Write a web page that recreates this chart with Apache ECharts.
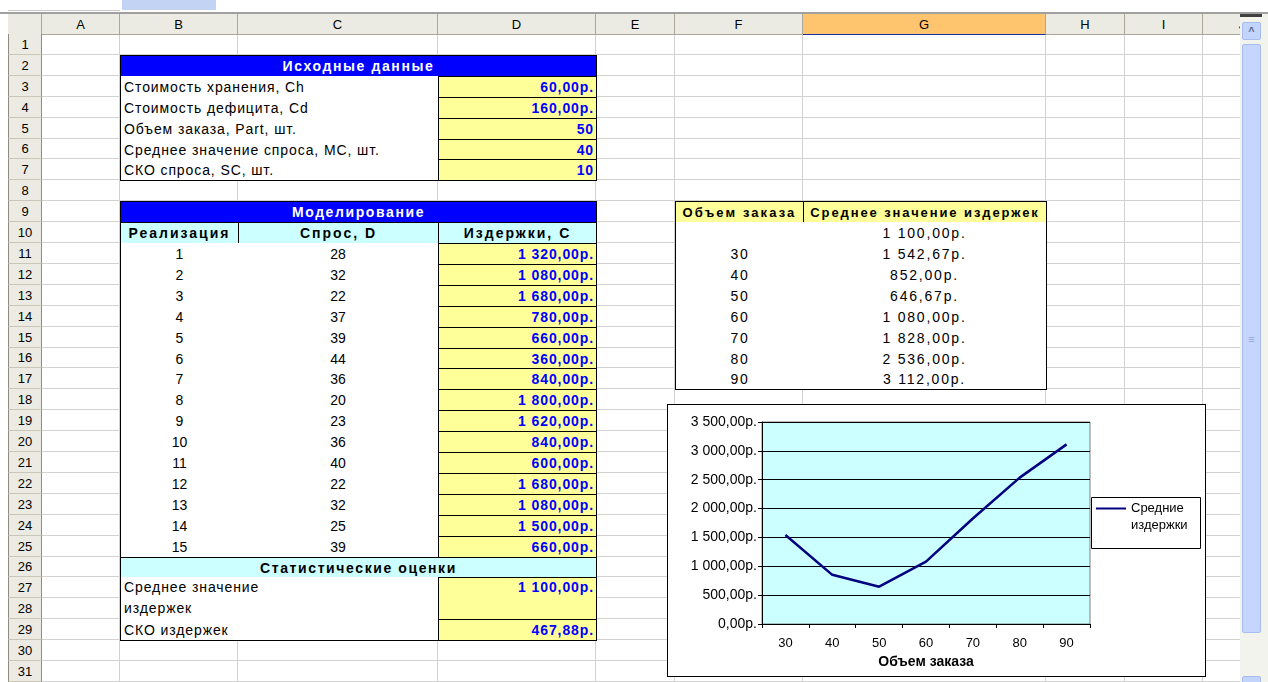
<!DOCTYPE html>
<html>
<head>
<meta charset="utf-8">
<script src="https://cdn.jsdelivr.net/npm/echarts@6/dist/echarts.min.js"></script>
<style>
  body { margin: 0; width: 1268px; height: 682px; overflow: hidden; background: #fff;
         font-family: 'Liberation Sans', Arial, sans-serif; }
  #sheet { position: absolute; left: 0; top: 0; width: 1268px; height: 682px; overflow: hidden; }
  .c { position: absolute; box-sizing: border-box; white-space: nowrap; overflow: hidden;
       font-size: 13px; color: #000; display: flex; align-items: center; }
  #chartBox { position: absolute; left: 667px; top: 404px; width: 539px; height: 273px;
              box-sizing: border-box; border: 1px solid #000; background: #fff; }
  #chart { width: 537px; height: 271px; }
</style>
</head>
<body>
<div id="sheet"></div>
<div id="chartBox"><div id="chart"></div></div>
<script>
// исходные данные
const paramLabels = ['Стоимость хранения, Ch', 'Стоимость дефицита, Cd', 'Объем заказа, Part, шт.',
                     'Среднее значение спроса, MC, шт.', 'СКО спроса, SC, шт.'];
const paramValues = [60, 160, 50, 40, 10];
const paramMoney = [true, true, false, false, false];

// моделирование
const runs = [1, 2, 3, 4, 5, 6, 7, 8, 9, 10, 11, 12, 13, 14, 15];
const demand = [28, 32, 22, 37, 39, 44, 36, 20, 23, 36, 40, 22, 32, 25, 39];
const costs = [1320, 1080, 1680, 780, 660, 360, 840, 1800, 1620, 840, 600, 1680, 1080, 1500, 660];
const meanCost = 1100;
const sdCost = 467.88;

// таблица подстановки
const orderSizes = ['', 30, 40, 50, 60, 70, 80, 90];
const orderMeanCosts = [1100, 1542.67, 852, 646.67, 1080, 1828, 2536, 3112];

const colLetters = ['A', 'B', 'C', 'D', 'E', 'F', 'G', 'H', 'I', 'J'];
const colEdges = [8, 42, 120, 238, 438, 596, 675, 803, 1046, 1125, 1203, 1282];

const sheet = document.getElementById('sheet');

function fmtMoney(v) {
  const parts = v.toFixed(2).split('.');
  return parts[0].replace(/\B(?=(\d{3})+(?!\d))/g, ' ') + ',' + parts[1] + 'р.';
}
function rowTop(r) { return Math.round(34 + (r - 1) * 20.9); }
function colL(l) { return colEdges[colLetters.indexOf(l) + 1]; }
function colR(l) { return colEdges[colLetters.indexOf(l) + 2]; }

function div(x, y, w, h, st, text) {
  const d = document.createElement('div');
  d.className = 'c';
  d.style.left = x + 'px'; d.style.top = y + 'px';
  d.style.width = w + 'px'; d.style.height = h + 'px';
  Object.assign(d.style, st || {});
  if (text !== undefined) d.textContent = text;
  sheet.appendChild(d);
  return d;
}

// grid lines
for (let r = 1; r <= 31; r++) {
  for (let c = 1; c < colEdges.length - 1; c++) {
    const x = colEdges[c], y = rowTop(r);
    div(x, y, colEdges[c + 1] - x, rowTop(r + 1) - y,
        { borderRight: '1px solid #d2d2d2', borderBottom: '1px solid #d2d2d2' });
  }
}

// top remnants (formula bar)
div(8, 0, 112, 11, { borderBottom: '1px solid #c8c8c8' });
div(122, 0, 94, 10, { background: '#c3d3f3' });
div(0, 12, 1268, 2, { background: '#a0a0a0' });

// column headers
div(8, 14, 34, 21, { background: '#ecebe3', borderRight: '1px solid #aca899', borderBottom: '1px solid #aca899' });
colLetters.forEach((l, i) => {
  const x = colEdges[i + 1], w = colEdges[i + 2] - x;
  const sel = l === 'G';
  div(x, 14, w, 21, {
    background: sel ? '#ffc46e' : '#ecebe3',
    borderRight: '1px solid #aca899',
    borderBottom: sel ? '1px solid #1c2fa0' : '1px solid #aca899',
    justifyContent: 'center', fontSize: '13px'
  }, l);
});

// row headers
for (let r = 1; r <= 31; r++) {
  const y = rowTop(r);
  div(8, y, 34, rowTop(r + 1) - y, {
    background: '#ecebe3', borderRight: '1px solid #8e8b7f', borderBottom: '1px solid #cbc7b8',
    borderLeft: '1px solid #8e8b7f', justifyContent: 'center', fontSize: '13px'
  }, String(r));
}

// table cell helper
const STY = {
  title: { background: '#0000ff', color: '#fff', fontWeight: 'bold', fontSize: '14px', letterSpacing: '1.6px', justifyContent: 'center' },
  head:  { fontWeight: 'bold', fontSize: '14px', letterSpacing: '2px', justifyContent: 'center' },
  val:   { background: '#ffff99', color: '#0000ff', fontWeight: 'bold', fontSize: '14px', letterSpacing: '0.9px', justifyContent: 'flex-end', paddingRight: '2px' },
  lab:   { background: '#fff', paddingLeft: '3px', fontSize: '14px', letterSpacing: '0.9px' },
  num:   { background: '#fff', justifyContent: 'center', fontSize: '14px' },
  plain: { background: '#fff', justifyContent: 'center', fontSize: '14px', letterSpacing: '1.8px' }
};
function cell(c1, c2, r1, r2, kind, sides, text, extra) {
  const x1 = colL(c1), x2 = colR(c2), y1 = rowTop(r1), y2 = rowTop(r2 + 1);
  const st = Object.assign({}, STY[kind]);
  const b = '1px solid #000';
  if (sides.includes('t')) st.borderTop = b;
  if (sides.includes('l')) st.borderLeft = b;
  if (sides.includes('r')) st.borderRight = b;
  if (sides.includes('b')) st.borderBottom = b;
  Object.assign(st, extra || {});
  return div(x1, y1, x2 - x1 + 1, y2 - y1 + 1, st, text);
}

// Исходные данные
cell('B', 'D', 2, 2, 'title', 'tlrb', 'Исходные данные');
paramLabels.forEach((t, i) => {
  const r = 3 + i;
  cell('B', 'C', r, r, 'lab', i === paramLabels.length - 1 ? 'lb' : 'l', t);
  cell('D', 'D', r, r, 'val', 'tlrb', paramMoney[i] ? fmtMoney(paramValues[i]) : String(paramValues[i]));
});

// Моделирование
cell('B', 'D', 9, 9, 'title', 'tlrb', 'Моделирование');
cell('B', 'B', 10, 10, 'head', 'tlrb', 'Реализация', { background: '#ccffff' });
cell('C', 'C', 10, 10, 'head', 'tlrb', 'Спрос, D', { background: '#ccffff' });
cell('D', 'D', 10, 10, 'head', 'tlrb', 'Издержки, С', { background: '#ccffff' });
runs.forEach((n, i) => {
  const r = 11 + i;
  const last = i === runs.length - 1;
  cell('B', 'B', r, r, 'num', last ? 'lrb' : 'lr', String(n));
  cell('C', 'C', r, r, 'num', last ? 'rb' : 'r', String(demand[i]));
  cell('D', 'D', r, r, 'val', 'tlrb', fmtMoney(costs[i]));
});
cell('B', 'D', 26, 26, 'head', 'tlrb', 'Статистические оценки', { background: '#ccffff', letterSpacing: '1.6px' });
cell('B', 'C', 27, 28, 'lab', 'lb', 'Среднее значение\nиздержек',
     { whiteSpace: 'pre', lineHeight: '21px', alignItems: 'flex-start' });
cell('D', 'D', 27, 28, 'val', 'tlrb', fmtMoney(meanCost), { alignItems: 'flex-start', lineHeight: '19px' });
cell('B', 'C', 29, 29, 'lab', 'lb', 'СКО издержек');
cell('D', 'D', 29, 29, 'val', 'tlrb', fmtMoney(sdCost));

// Объем заказа / Среднее значение издержек
cell('F', 'F', 9, 9, 'head', 'tlrb', 'Объем заказа', { background: '#ffff99', fontSize: '13px', letterSpacing: '2.1px' });
cell('G', 'G', 9, 9, 'head', 'tlrb', 'Среднее значение издержек', { background: '#ffff99', fontSize: '13px', letterSpacing: '1.9px' });
orderSizes.forEach((s, i) => {
  const r = 10 + i;
  const last = i === orderSizes.length - 1;
  cell('F', 'F', r, r, 'plain', last ? 'lb' : 'l', String(s));
  cell('G', 'G', r, r, 'plain', last ? 'rb' : 'r', fmtMoney(orderMeanCosts[i]));
});

// scrollbar
div(1240, 14, 28, 668, { background: '#f3f3ee' });
div(1242, 22, 19, 18, { background: '#c2d3fc', border: '1px solid #a7bdf0', borderRadius: '2px',
                        justifyContent: 'center', color: '#4d6185', fontSize: '10px', fontWeight: 'bold' }, '^');
div(1242, 44, 19, 589, { background: '#c6d5fd', border: '1px solid #a7bdf0', borderRadius: '2px',
                         justifyContent: 'center', color: '#8fa6dc', fontSize: '11px' }, '≡');
div(1242, 676, 19, 10, { background: '#c2d3fc', border: '1px solid #a7bdf0', borderRadius: '2px' });
div(1240, 14, 22, 3, { background: '#404040' });

// chart
const chartOrders = orderSizes.slice(1).map(String);
const chartCosts = orderMeanCosts.slice(1);

const chart = echarts.init(document.getElementById('chart'));
chart.setOption({
  animation: false,
  textStyle: { fontFamily: 'Liberation Sans' },
  grid: {
    left: 94, top: 17, width: 328, height: 202,
    show: true, backgroundColor: '#ccffff', borderColor: '#808080', borderWidth: 1
  },
  graphic: [{
    type: 'rect', left: 423, top: 92, z: 1,
    shape: { width: 109, height: 51 },
    style: { fill: '#fff', stroke: '#000', lineWidth: 1 }
  }],
  legend: {
    left: 428, top: 78, padding: 0,
    icon: 'rect', itemWidth: 30, itemHeight: 2,
    itemStyle: { color: '#000080' },
    textStyle: { fontSize: 13, color: '#000', lineHeight: 17 },
    formatter: () => ' \nСредние\nиздержки',
    data: ['Средние издержки']
  },
  xAxis: {
    type: 'category',
    data: chartOrders,
    boundaryGap: true,
    name: 'Объем заказа',
    nameLocation: 'middle',
    nameGap: 27,
    nameTextStyle: { fontSize: 14, fontWeight: 'bold', color: '#000' },
    axisLine: { lineStyle: { color: '#000', width: 1 } },
    axisTick: { show: true, length: 4, lineStyle: { color: '#000' } },
    axisLabel: { fontSize: 13, color: '#000', margin: 13 },
    splitLine: { show: false }
  },
  yAxis: {
    type: 'value',
    min: 0, max: 3500, interval: 500,
    axisLine: { show: true, lineStyle: { color: '#000', width: 1 } },
    axisTick: { show: true, length: 4, lineStyle: { color: '#000' } },
    axisLabel: { fontSize: 14, color: '#000', margin: 5, formatter: v => fmtMoney(v) },
    splitLine: { show: true, lineStyle: { color: '#000', width: 1 } }
  },
  series: [{
    name: 'Средние издержки',
    type: 'line',
    data: chartCosts,
    symbol: 'none',
    lineStyle: { color: '#000080', width: 2.5 },
    itemStyle: { color: '#000080' }
  }]
});
</script>
</body>
</html>
